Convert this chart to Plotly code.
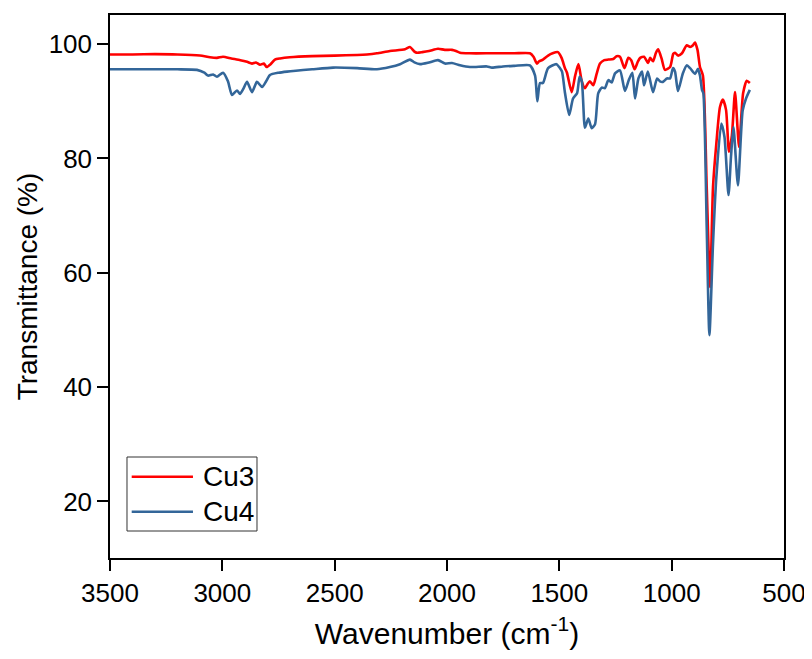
import plotly.graph_objects as go

# Cu3 spectrum (wavenumber cm-1, transmittance %)
cu3_wn = [3500, 3400, 3300, 3200, 3100, 3055, 3024, 2997, 2960, 2920,
          2890, 2868, 2850, 2832, 2815, 2803, 2785, 2766, 2743, 2700,
          2600, 2500, 2400, 2356, 2312, 2254, 2187, 2165, 2145, 2134,
          2110, 2080, 2040, 2010, 1978, 1960, 1942, 1900, 1800, 1700,
          1631, 1615, 1600, 1590, 1573, 1550, 1530, 1506, 1490, 1475,
          1466, 1445, 1430, 1415, 1400, 1386, 1375, 1364, 1349, 1334,
          1319, 1300, 1282, 1260, 1245, 1230, 1210, 1193, 1180, 1165,
          1150, 1140, 1123, 1105, 1096, 1083, 1070, 1060, 1045, 1030,
          1007, 993, 985, 972, 954, 933, 918, 905, 896, 885,
          874, 861, 844, 829, 816, 801, 785, 772, 758, 745,
          732, 718, 700, 682, 666, 652]
cu3_t = [98.2, 98.2, 98.25, 98.2, 98.0, 97.7, 97.6, 97.8, 97.5, 97.2,
         96.9, 96.6, 96.8, 96.4, 96.6, 96.0, 96.5, 97.3, 97.5, 97.7,
         97.9, 98.0, 98.1, 98.2, 98.4, 98.8, 99.1, 99.5, 98.7, 98.5,
         98.6, 98.8, 99.2, 99.0, 99.0, 98.8, 98.5, 98.4, 98.4, 98.4,
         98.4, 97.8, 96.6, 97.0, 97.3, 98.0, 98.4, 98.6, 97.6, 95.8,
         95.0, 91.6, 94.4, 96.5, 93.5, 92.3, 93.0, 93.5, 92.8, 94.8,
         96.6, 97.2, 97.3, 97.4, 97.9, 97.8, 95.8, 97.6, 97.2, 95.6,
         97.0, 97.6, 97.8, 96.7, 97.6, 97.0, 98.5, 99.1, 97.5, 95.5,
         96.0, 98.3, 98.5, 98.0, 98.4, 99.8, 99.5, 99.8, 100.3, 99.0,
         96.0, 94.5, 75.0, 57.5, 75.0, 82.7, 89.0, 90.3, 88.5, 81.2,
         84.0, 91.6, 82.0, 91.4, 93.6, 93.2]

# Cu4 spectrum
cu4_wn = [3500, 3400, 3300, 3200, 3113, 3080, 3064, 3041, 3024, 2997,
          2975, 2957, 2935, 2921, 2905, 2890, 2868, 2846, 2823, 2805,
          2788, 2750, 2712, 2600, 2507, 2400, 2312, 2254, 2209, 2165,
          2145, 2120, 2080, 2040, 2009, 1978, 1942, 1898, 1822, 1800,
          1751, 1700, 1631, 1608, 1598, 1586, 1573, 1550, 1513, 1497,
          1488, 1475, 1456, 1439, 1421, 1410, 1400, 1386, 1371, 1356,
          1341, 1327, 1311, 1297, 1282, 1267, 1252, 1230, 1208, 1190,
          1175, 1163, 1148, 1132, 1123, 1106, 1083, 1065, 1052, 1039,
          1021, 1007, 994, 985, 972, 950, 932, 918, 896, 883,
          874, 865, 859, 844, 832, 816, 801, 779, 765, 747,
          736, 725, 705, 684, 669, 652]
cu4_t = [95.6, 95.6, 95.6, 95.6, 95.5, 95.0, 94.5, 94.7, 94.3, 95.0,
         93.5, 91.1, 91.9, 91.3, 92.3, 93.4, 91.6, 93.4, 92.5, 93.5,
         94.6, 95.0, 95.2, 95.6, 95.9, 95.8, 95.6, 96.0, 96.5, 97.3,
         96.8, 96.5, 96.8, 97.2, 96.6, 96.7, 96.3, 96.0, 96.1, 95.9,
         96.1, 96.2, 96.3, 94.5, 90.0, 93.2, 93.2, 95.8, 96.5, 95.8,
         95.2, 91.5, 87.6, 90.5, 91.4, 94.3, 93.5, 85.4, 87.0, 85.3,
         86.0, 91.4, 92.4, 92.3, 93.7, 93.3, 94.9, 95.4, 91.8, 93.8,
         95.0, 90.5, 94.0, 95.2, 92.8, 95.2, 91.6, 94.0, 93.5, 93.4,
         94.0, 94.0, 95.8, 95.2, 91.8, 94.9, 96.3, 95.8, 94.8, 95.7,
         94.5, 92.0, 91.4, 68.0, 49.1, 65.1, 76.8, 86.1, 83.8, 73.6,
         80.3, 85.5, 75.3, 88.4, 90.5, 92.0]

series_names = ["Cu3", "Cu4"]
series_colors = ["#FF0000", "#336699"]

x_ticks = [3500, 3000, 2500, 2000, 1500, 1000, 500]
y_ticks = [20, 40, 60, 80, 100]

FONT = "Liberation Sans, Arial, sans-serif"

fig = go.Figure()
for wn, t, name, col in zip([cu3_wn, cu4_wn], [cu3_t, cu4_t], series_names, series_colors):
    fig.add_trace(go.Scatter(x=wn, y=t, mode="lines", name=name, showlegend=False,
                             line=dict(color=col, width=2.6, shape="spline", smoothing=0.6)))

axis_common = dict(showline=True, linecolor="black", linewidth=1.5, mirror=True,
                   ticks="outside", ticklen=11, tickwidth=1.5, tickcolor="black",
                   showgrid=False, zeroline=False, automargin=False,
                   tickfont=dict(family=FONT, size=26, color="black"))

fig.update_xaxes(range=[3500, 500], tickvals=x_ticks,
                 title=dict(text="Wavenumber (cm<sup>-1</sup>)",
                            font=dict(family=FONT, size=30, color="black"), standoff=16),
                 **axis_common)
fig.update_yaxes(range=[10.1, 105.1], tickvals=y_ticks,
                 title=dict(text="Transmittance (%)",
                            font=dict(family=FONT, size=28, color="black"), standoff=3),
                 **axis_common)

# Legend drawn as a framed box (paper coordinates of the plot area)
fig.add_shape(type="rect", xref="paper", yref="paper",
              x0=0.0252, x1=0.2181, y0=0.0497, y1=0.186,
              line=dict(color="#333333", width=1), fillcolor="white", layer="above")
legend_rows_y = [0.1497, 0.0853]
for name, col, ly in zip(series_names, series_colors, legend_rows_y):
    fig.add_shape(type="line", xref="paper", yref="paper",
                  x0=0.0322, x1=0.1231, y0=ly, y1=ly,
                  line=dict(color=col, width=2.6), layer="above")
    fig.add_annotation(xref="paper", yref="paper", x=0.1350, y=ly,
                       text=name, showarrow=False, xanchor="left", yanchor="middle",
                       font=dict(family=FONT, size=28, color="black"))

fig.update_layout(
    width=804, height=651,
    margin=dict(l=102, r=28, t=7, b=101),
    paper_bgcolor="white", plot_bgcolor="white",
    showlegend=False,
)

fig.write_html("out.html")
